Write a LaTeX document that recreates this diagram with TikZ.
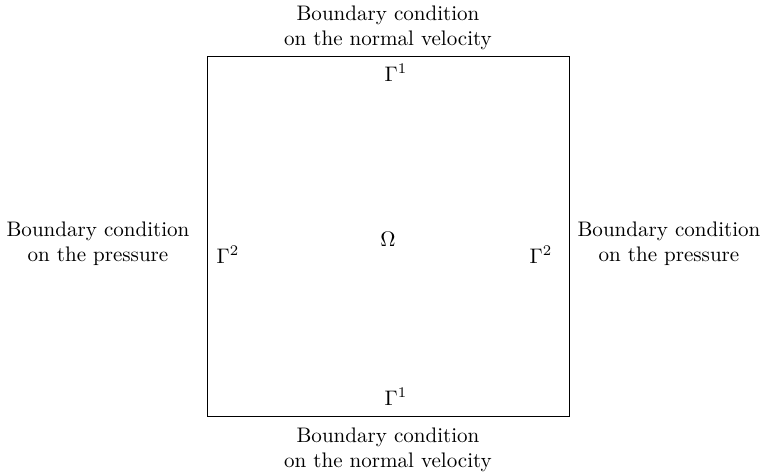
\documentclass[tikz,border=0pt]{standalone}
\begin{document}
\begin{tikzpicture}[x=0.475pt,y=-0.475pt,
  lbl/.style={align=center,inner sep=0pt},
  sym/.style={inner sep=0pt}]
\useasboundingbox (0,0) rectangle (761,472);
\draw[line width=0.4pt] (207,56) rectangle (569,416);
\node[lbl] (top) at (388,28) {Boundary condition\\on the normal velocity};
\node[lbl] (bot) at (388,450) {Boundary condition\\on the normal velocity};
\node[lbl] (left) at (98,244) {Boundary condition\\on the pressure};
\node[lbl] (right) at (669,244) {Boundary condition\\on the pressure};
\node[sym] (g1t) at (396,73) {$\Gamma^1$};
\node[sym] (g1b) at (396,397) {$\Gamma^1$};
\node[sym] (g2l) at (228,255) {$\Gamma^2$};
\node[sym] (g2r) at (541,255) {$\Gamma^2$};
\node[sym] (om) at (388,239) {$\Omega$};
\end{tikzpicture}
\end{document}
